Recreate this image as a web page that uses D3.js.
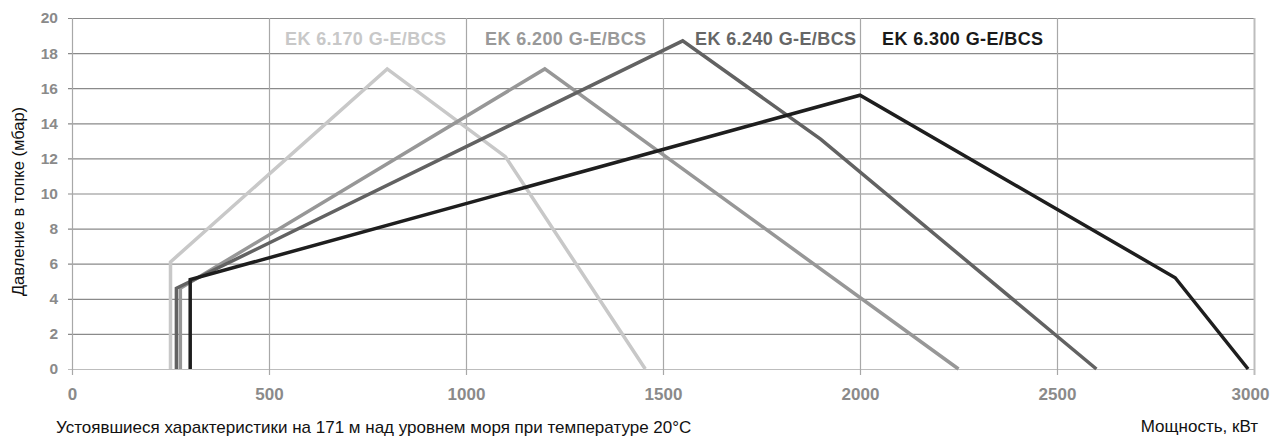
<!DOCTYPE html>
<html>
<head>
<meta charset="utf-8">
<script src="https://cdn.jsdelivr.net/npm/d3@7"></script>
<style>
html,body{margin:0;padding:0;background:#fff;}
svg{display:block;font-family:"Liberation Sans",Arial,Helvetica,sans-serif;}
</style>
</head>
<body>
<script>
// ---- data ----
const seriesNames = ["EK 6.170 G-E/BCS", "EK 6.200 G-E/BCS", "EK 6.240 G-E/BCS", "EK 6.300 G-E/BCS"];
const ek170Power = [250, 250, 800, 1100, 1455];
const ek170Press = [0, 6.1, 17.1, 12.1, 0];
const ek200Power = [275, 275, 1200, 2250];
const ek200Press = [0, 4.6, 17.1, 0];
const ek240Power = [265, 265, 1550, 1900, 2600];
const ek240Press = [0, 4.6, 18.7, 13.1, 0];
const ek300Power = [300, 300, 2000, 2800, 2985];
const ek300Press = [0, 5.1, 15.6, 5.2, 0];
const xTicks = [0, 500, 1000, 1500, 2000, 2500, 3000];
const yTicks = [0, 2, 4, 6, 8, 10, 12, 14, 16, 18, 20];
const yTitle = "Давление в топке (мбар)";
const xTitle = "Мощность, кВт";
const note = "Устоявшиеся характеристики на 171 м над уровнем моря при температуре 20°C";

// ---- layout ----
const W = 1271, H = 439;
const L = 72, R = 1254, T = 18, B = 369;
const colors = ["#c8c8c8", "#979797", "#626262", "#1e1e1e"];
const labelColors = ["#c8c8c8", "#999999", "#666666", "#1a1a1a"];
const labelX = [285, 485, 695, 882];

const svg = d3.select("body").append("svg").attr("width", W).attr("height", H);
const x = d3.scaleLinear().domain([0, 3000]).range([L, R]);
const y = d3.scaleLinear().domain([0, 20]).range([B, T]);

// horizontal grid + y labels
const gy = svg.append("g").attr("transform", `translate(${L - 4},0)`)
  .call(d3.axisLeft(y).tickValues(yTicks).tickFormat(d3.format("d")).tickSize(-(R - L + 4)).tickPadding(10));
gy.select(".domain").remove();
gy.selectAll(".tick line").attr("stroke", d => d === 0 ? "#bdbdbd" : "#8a8a8a").attr("stroke-width", 1.2);
gy.selectAll(".tick text").attr("fill", "#8a8a8a").attr("font-size", 15.5).attr("font-weight", "bold")
  .attr("font-family", "'Liberation Sans',Arial,sans-serif");

// vertical grid + x labels
const gx = svg.append("g").attr("transform", `translate(0,${B + 6})`)
  .call(d3.axisBottom(x).tickValues(xTicks).tickFormat(d3.format("d")).tickSize(-(B + 6 - T)).tickPadding(13));
gx.select(".domain").remove();
gx.selectAll(".tick line").attr("stroke", d => d === 3000 ? "#bdbdbd" : "#a8a8a8")
  .attr("stroke-width", d => d === 3000 ? 2 : 1.2);
gx.selectAll(".tick text").attr("fill", "#8a8a8a").attr("font-size", 17).attr("font-weight", "bold")
  .attr("font-family", "'Liberation Sans',Arial,sans-serif")
  .attr("dx", d => d === 3000 ? -4 : 0);

// series
const series = [
  d3.zip(ek170Power, ek170Press),
  d3.zip(ek200Power, ek200Press),
  d3.zip(ek240Power, ek240Press),
  d3.zip(ek300Power, ek300Press)
];
const line = d3.line().x(d => x(d[0])).y(d => y(d[1]));
svg.append("g").selectAll("path").data(series).join("path")
  .attr("d", line)
  .attr("fill", "none")
  .attr("stroke", (d, i) => colors[i])
  .attr("stroke-width", 3.5)
  .attr("stroke-linejoin", "miter");

// series labels
svg.append("g").selectAll("text").data(seriesNames).join("text")
  .attr("x", (d, i) => labelX[i])
  .attr("y", 45)
  .attr("fill", (d, i) => labelColors[i])
  .attr("font-size", 18)
  .attr("font-weight", "bold")
  .attr("letter-spacing", 0.4)
  .text(d => d);

// axis titles
svg.append("text")
  .attr("transform", `translate(24,${(105 + 298) / 2}) rotate(-90)`)
  .attr("text-anchor", "middle")
  .attr("font-size", 16.5)
  .attr("fill", "#111")
  .text(yTitle);

svg.append("text")
  .attr("x", 1258).attr("y", 432)
  .attr("text-anchor", "end")
  .attr("font-size", 17)
  .attr("fill", "#111")
  .text(xTitle);

svg.append("text")
  .attr("x", 56).attr("y", 433)
  .attr("font-size", 17)
  .attr("fill", "#111")
  .text(note);
</script>
</body>
</html>
